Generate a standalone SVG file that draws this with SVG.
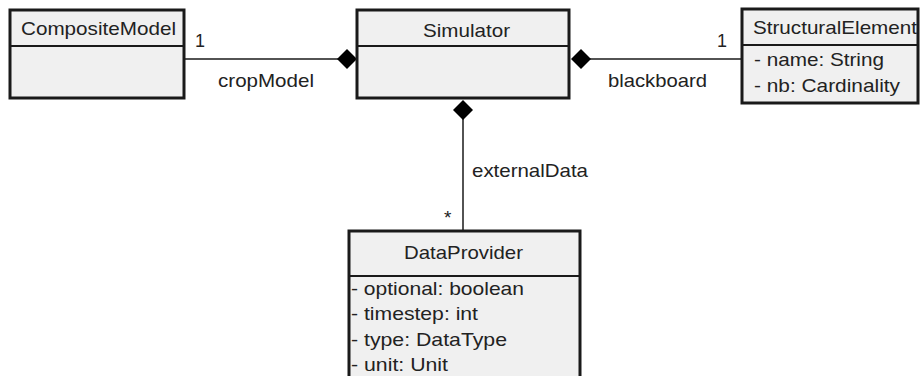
<svg xmlns="http://www.w3.org/2000/svg" width="920" height="376" viewBox="0 0 920 376">
<defs>
<style>
.box{fill:#f0f0f0;stroke:#1a1a1a;stroke-width:3}
.sep{stroke:#1a1a1a;stroke-width:2}
.t{font-family:"Liberation Sans",Arial,sans-serif;font-size:19px;fill:#222}
.ln{stroke:#1a1a1a;stroke-width:1.5;fill:none}
.dia{fill:#000}
</style>
</defs>
<rect width="920" height="376" fill="#fff"/>
<g id="connectors">
<line class="ln" x1="185" y1="59" x2="340" y2="59"/>
<polygon class="dia" points="337,59 347,49 357,59 347,69"/>
<line class="ln" x1="590" y1="59" x2="742" y2="59"/>
<polygon class="dia" points="571,59 581,49 591,59 581,69"/>
<line class="ln" x1="463" y1="118" x2="463" y2="231"/>
<polygon class="dia" points="463,100 473,110 463,120 453,110"/>
<text class="t" x="195" y="47" textLength="10" lengthAdjust="spacingAndGlyphs">1</text>
<text class="t" x="218" y="87" textLength="96" lengthAdjust="spacingAndGlyphs">cropModel</text>
<text class="t" x="717" y="47" textLength="10" lengthAdjust="spacingAndGlyphs">1</text>
<text class="t" x="608" y="87" textLength="99" lengthAdjust="spacingAndGlyphs">blackboard</text>
<text class="t" x="472" y="177" textLength="116" lengthAdjust="spacingAndGlyphs">externalData</text>
<text class="t" x="444" y="224">*</text>
</g>
<g id="CompositeModel">
<rect class="box" x="10" y="10" width="174" height="88"/>
<line class="sep" x1="10" y1="46" x2="184" y2="46"/>
<text class="t" x="21" y="35" textLength="155" lengthAdjust="spacingAndGlyphs">CompositeModel</text>
</g>
<g id="Simulator">
<rect class="box" x="357" y="10" width="212" height="88"/>
<line class="sep" x1="357" y1="46" x2="569" y2="46"/>
<text class="t" x="423" y="37" textLength="87" lengthAdjust="spacingAndGlyphs">Simulator</text>
</g>
<g id="StructuralElement">
<rect class="box" x="742" y="9" width="176" height="94"/>
<line class="sep" x1="742" y1="45" x2="918" y2="45"/>
<text class="t" x="753" y="34" textLength="164" lengthAdjust="spacingAndGlyphs">StructuralElement</text>
<text class="t" x="754" y="66" textLength="130" lengthAdjust="spacingAndGlyphs">- name: String</text>
<text class="t" x="754" y="92" textLength="146" lengthAdjust="spacingAndGlyphs">- nb: Cardinality</text>
</g>
<g id="DataProvider">
<rect class="box" x="349" y="231" width="231" height="160"/>
<line class="sep" x1="349" y1="276" x2="580" y2="276"/>
<text class="t" x="404" y="259" textLength="119" lengthAdjust="spacingAndGlyphs">DataProvider</text>
<text class="t" x="351" y="295" textLength="173" lengthAdjust="spacingAndGlyphs">- optional: boolean</text>
<text class="t" x="351" y="320" textLength="127" lengthAdjust="spacingAndGlyphs">- timestep: int</text>
<text class="t" x="351" y="346" textLength="156" lengthAdjust="spacingAndGlyphs">- type: DataType</text>
<text class="t" x="351" y="371" textLength="97" lengthAdjust="spacingAndGlyphs">- unit: Unit</text>
</g>
</svg>
